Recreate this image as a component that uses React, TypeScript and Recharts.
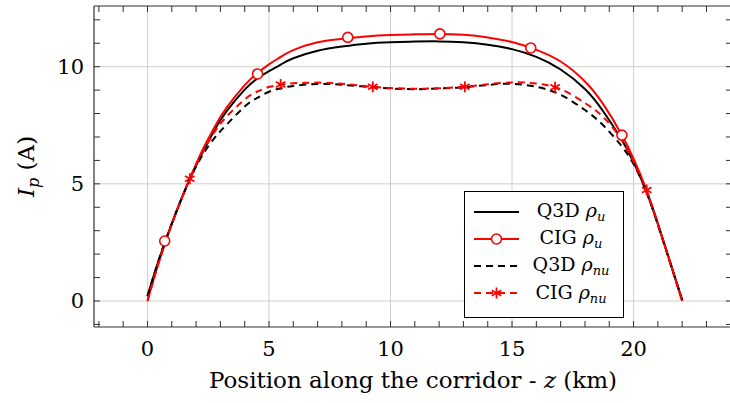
import React from 'react';
import { ComposedChart, Line, XAxis, YAxis, CartesianGrid } from 'recharts';

// ---- data ----
const zGrid = [0, 0.35, 0.75, 1.25, 1.75, 2.25, 2.75, 3.25, 4, 4.5, 5, 5.5, 6, 7, 8, 9, 10, 11, 12, 13, 14, 15, 16, 17, 18, 18.75, 19.5, 20, 20.5, 21, 21.5, 22];
const q3dU = [0.2, 1.38, 2.6, 3.98, 5.22, 6.3, 7.28, 8.09, 9.02, 9.48, 9.81, 10.1, 10.36, 10.68, 10.86, 10.98, 11.04, 11.07, 11.08, 11.04, 10.94, 10.75, 10.42, 9.88, 9.05, 8.1, 6.9, 5.92, 4.74, 3.28, 1.68, 0.05];
const cigU = [0, 1.26, 2.54, 3.97, 5.24, 6.41, 7.41, 8.24, 9.21, 9.71, 10.1, 10.43, 10.71, 11.04, 11.19, 11.29, 11.35, 11.38, 11.4, 11.36, 11.25, 11.05, 10.72, 10.22, 9.37, 8.4, 7.12, 6.07, 4.82, 3.32, 1.65, 0];
const q3dNu = [0.2, 1.38, 2.6, 3.97, 5.2, 6.2, 6.95, 7.52, 8.3, 8.66, 8.93, 9.08, 9.18, 9.26, 9.23, 9.14, 9.07, 9.04, 9.07, 9.12, 9.22, 9.27, 9.14, 8.8, 8.15, 7.5, 6.62, 5.85, 4.74, 3.25, 1.65, 0.05];
const cigNu = [0, 1.25, 2.55, 3.95, 5.25, 6.32, 7.2, 7.86, 8.6, 8.93, 9.13, 9.24, 9.29, 9.32, 9.27, 9.17, 9.09, 9.06, 9.08, 9.14, 9.25, 9.33, 9.28, 9.04, 8.45, 7.85, 6.9, 5.95, 4.8, 3.28, 1.66, 0];

const cigUMarkZ = [0.71, 4.53, 8.24, 12.03, 15.77, 19.52];
const cigUMarkI = [2.56, 9.69, 11.25, 11.4, 10.8, 7.08];
const cigNuMarkZ = [1.74, 5.48, 9.27, 13.06, 16.77, 20.54];
const cigNuMarkI = [5.22, 9.24, 9.14, 9.14, 9.12, 4.74];

const xMajorTicks = [0, 5, 10, 15, 20];
const yMajorTicks = [0, 5, 10];
const xMinorTicks = [-2, -1, 0, 1, 2, 3, 4, 5, 6, 7, 8, 9, 10, 11, 12, 13, 14, 15, 16, 17, 18, 19, 20, 21, 22, 23, 24];
const yMinorTicks = [-1, 0, 1, 2, 3, 4, 5, 6, 7, 8, 9, 10, 11, 12];

const seriesLabels = ['Q3D', 'CIG', 'Q3D', 'CIG'];
const seriesSubs = ['u', 'u', 'nu', 'nu'];

const xDomain: [number, number] = [-2.2, 24.05];
const yDomain: [number, number] = [-1.11, 12.59];

const toPoints = (zs: number[], is: number[]) => zs.map((z, k) => ({ z, i: is[k] }));

// plot box (follows from the chart size, margins and axis sizes below); used only for the frame decoration
const CHART_W = 734;
const CHART_H = 403;
const MARGIN = { top: 6, right: 2, bottom: 0, left: 0 };
const Y_AXIS_W = 94;
const X_AXIS_H = 76;
const PLOT = {
  left: MARGIN.left + Y_AXIS_W,
  top: MARGIN.top,
  right: CHART_W - MARGIN.right,
  bottom: CHART_H - MARGIN.bottom - X_AXIS_H,
};
const frameX = (z: number) => PLOT.left + ((z - xDomain[0]) / (xDomain[1] - xDomain[0])) * (PLOT.right - PLOT.left);
const frameY = (v: number) => PLOT.top + ((yDomain[1] - v) / (yDomain[1] - yDomain[0])) * (PLOT.bottom - PLOT.top);

const FONT = "'DejaVu Serif', serif";
const RED = '#ff0000';
const AX = '#303030';

const CircleDot = (props: any) => {
  const { cx, cy, index } = props;
  if (cx == null || cy == null) return null;
  return <circle key={`c${index}`} cx={cx} cy={cy} r={5} fill="#fff" stroke={RED} strokeWidth={1.6} />;
};

const StarShape = ({ cx, cy, r = 5.5 }: { cx: number; cy: number; r?: number }) => {
  const c = Math.cos(Math.PI / 6) * r;
  const s = 0.5 * r;
  return (
    <g stroke={RED} strokeWidth={1.8}>
      <line x1={cx} y1={cy - r} x2={cx} y2={cy + r} />
      <line x1={cx - c} y1={cy - s} x2={cx + c} y2={cy + s} />
      <line x1={cx - c} y1={cy + s} x2={cx + c} y2={cy - s} />
    </g>
  );
};

const StarDot = (props: any) => {
  const { cx, cy, index } = props;
  if (cx == null || cy == null) return null;
  return <StarShape key={`s${index}`} cx={cx} cy={cy} />;
};

const XLabel = (props: any) => {
  const vb = props.viewBox || { x: 94, y: 327, width: 638, height: 76 };
  return (
    <text x={vb.x + vb.width / 2} y={vb.y + vb.height - 15} textAnchor="middle" fontFamily={FONT} fontSize={23} fill="#000">
      Position along the corridor - <tspan fontStyle="italic">z</tspan> (km)
    </text>
  );
};

const YLabel = (props: any) => {
  const vb = props.viewBox || { x: 0, y: 6, width: 94, height: 321 };
  const cy = vb.y + vb.height / 2;
  return (
    <text transform={`translate(34, ${cy}) rotate(-90)`} textAnchor="middle" fontFamily={FONT} fontSize={23} fill="#000">
      <tspan fontStyle="italic">I</tspan>
      <tspan fontStyle="italic" fontSize={16} dy={5}>p</tspan>
      <tspan dy={-5}> (A)</tspan>
    </text>
  );
};

const LegendSample = ({ kind }: { kind: number }) => {
  const stroke = kind % 2 === 0 ? '#000' : RED;
  const dash = kind >= 2 ? '7 5' : undefined;
  return (
    <svg width={60} height={16} style={{ display: 'block' }}>
      <line x1={9} y1={8} x2={54} y2={8} stroke={stroke} strokeWidth={2} strokeDasharray={dash} />
      {kind === 1 && <circle cx={31.5} cy={8} r={5} fill="#fff" stroke={RED} strokeWidth={1.6} />}
      {kind === 3 && <StarShape cx={31.5} cy={8} />}
    </svg>
  );
};

const FrameOverlay = () => (
  <svg width={730} height={403} style={{ position: 'absolute', left: 0, top: 0, zIndex: 2, pointerEvents: 'none' }}>
    <line x1={PLOT.left} x2={PLOT.right} y1={PLOT.top} y2={PLOT.top} stroke={AX} strokeWidth={1.2} />
    <line x1={PLOT.right} x2={PLOT.right} y1={PLOT.top} y2={PLOT.bottom} stroke={AX} strokeWidth={1.2} />
    {xMinorTicks.map((t) => (
      <line key={`tt${t}`} x1={frameX(t)} x2={frameX(t)} y1={PLOT.top} y2={PLOT.top + 6} stroke={AX} strokeWidth={1} />
    ))}
    {yMinorTicks.map((t) => (
      <line key={`rt${t}`} x1={PLOT.right - 6} x2={PLOT.right} y1={frameY(t)} y2={frameY(t)} stroke={AX} strokeWidth={1} />
    ))}
  </svg>
);

const xFmt = (v: number) => (xMajorTicks.includes(v) ? String(v) : '');
const yFmt = (v: number) => (yMajorTicks.includes(v) ? String(v) : '');
const axisLineStyle = { stroke: AX, strokeWidth: 1.2 };
const tickLineStyle = { stroke: AX, strokeWidth: 1 };

export default function App() {
  return (
    <div style={{ position: 'absolute', left: 0, top: 0, width: 730, height: 403, overflow: 'hidden', background: '#fff' }}>
      <ComposedChart width={CHART_W} height={CHART_H} margin={MARGIN}>
        <CartesianGrid xAxisId="x" yAxisId="y" stroke="#cfcfcf" strokeWidth={1} verticalValues={xMajorTicks} horizontalValues={yMajorTicks} />
        <XAxis
          xAxisId="x"
          type="number"
          dataKey="z"
          domain={xDomain}
          allowDataOverflow
          ticks={xMinorTicks}
          interval={0}
          tickFormatter={xFmt}
          height={X_AXIS_H}
          tickSize={-6}
          tickMargin={20}
          tickLine={tickLineStyle}
          axisLine={axisLineStyle}
          tick={{ fontFamily: FONT, fontSize: 21, fill: '#000' }}
          label={XLabel}
        />
        <YAxis
          yAxisId="y"
          type="number"
          domain={yDomain}
          allowDataOverflow
          ticks={yMinorTicks}
          interval={0}
          tickFormatter={yFmt}
          width={Y_AXIS_W}
          tickSize={-6}
          tickMargin={16}
          tickLine={tickLineStyle}
          axisLine={axisLineStyle}
          tick={{ fontFamily: FONT, fontSize: 21, fill: '#000' }}
          label={YLabel}
        />
        <Line xAxisId="x" yAxisId="y" data={toPoints(zGrid, q3dU)} dataKey="i" type="natural" stroke="#000" strokeWidth={2} dot={false} activeDot={false} isAnimationActive={false} />
        <Line xAxisId="x" yAxisId="y" data={toPoints(zGrid, cigU)} dataKey="i" type="natural" stroke={RED} strokeWidth={2} dot={false} activeDot={false} isAnimationActive={false} />
        <Line xAxisId="x" yAxisId="y" data={toPoints(zGrid, q3dNu)} dataKey="i" type="natural" stroke="#000" strokeWidth={2} strokeDasharray="7 5" dot={false} activeDot={false} isAnimationActive={false} />
        <Line xAxisId="x" yAxisId="y" data={toPoints(zGrid, cigNu)} dataKey="i" type="natural" stroke={RED} strokeWidth={2} strokeDasharray="7 5" dot={false} activeDot={false} isAnimationActive={false} />
        <Line xAxisId="x" yAxisId="y" data={toPoints(cigUMarkZ, cigUMarkI)} dataKey="i" stroke="none" dot={CircleDot} activeDot={false} isAnimationActive={false} />
        <Line xAxisId="x" yAxisId="y" data={toPoints(cigNuMarkZ, cigNuMarkI)} dataKey="i" stroke="none" dot={StarDot} activeDot={false} isAnimationActive={false} />
      </ComposedChart>
      <FrameOverlay />
      <div
        style={{
          position: 'absolute',
          left: 464,
          top: 191,
          width: 158,
          height: 119,
          border: '1px solid #000',
          background: '#fff',
          fontFamily: FONT,
          fontSize: 19,
          color: '#000',
          paddingTop: 6,
          boxSizing: 'content-box',
          zIndex: 3,
        }}
      >
        {seriesLabels.map((lab, k) => (
          <div key={k} style={{ display: 'flex', alignItems: 'center', height: 27.2 }}>
            <LegendSample kind={k} />
            <div style={{ width: 92, textAlign: 'center', whiteSpace: 'nowrap', lineHeight: '20px' }}>
              {lab} <i>ρ</i>
              <span style={{ fontSize: 13, fontStyle: 'italic', position: 'relative', top: 4 }}>{seriesSubs[k]}</span>
            </div>
          </div>
        ))}
      </div>
    </div>
  );
}
